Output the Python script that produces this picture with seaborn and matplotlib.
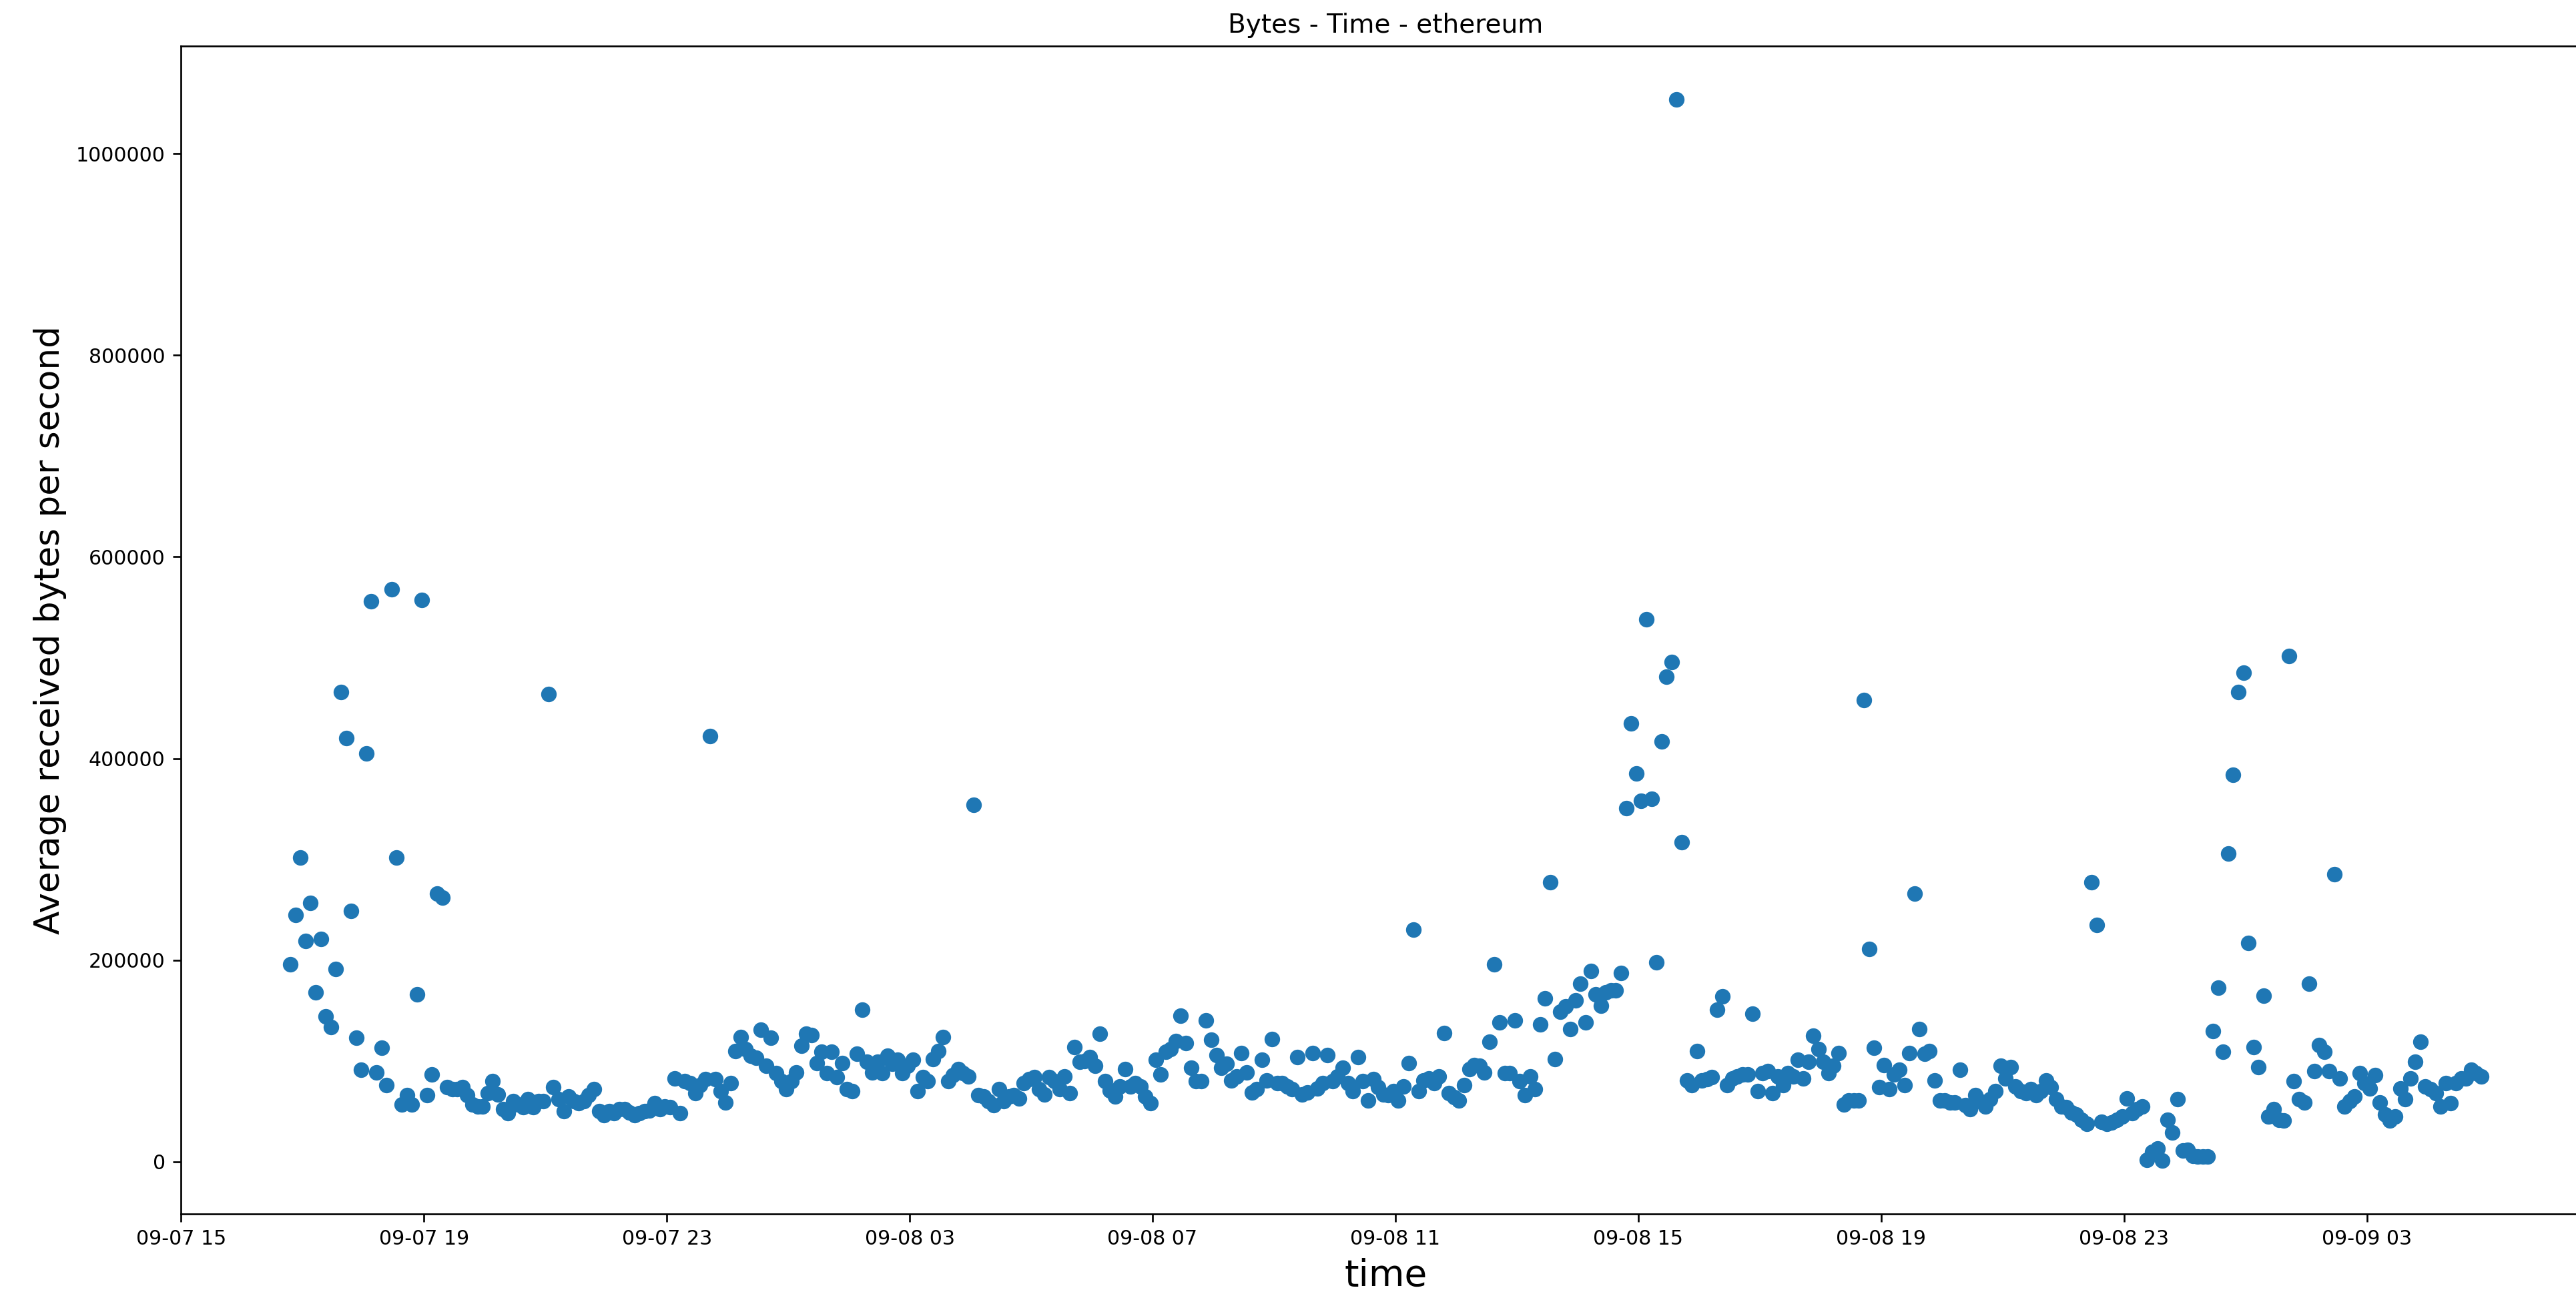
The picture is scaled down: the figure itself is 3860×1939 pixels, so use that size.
import matplotlib
matplotlib.use("Agg")
import matplotlib.pyplot as plt
import matplotlib.dates as mdates
import seaborn as sns
import pandas as pd

# ---------------- data ----------------
start_time = "2018-09-07 16:48"
sample_interval = "5min"

avg_bytes = [
    196000, 245000, 302000, 219000, 257000, 168000, 221000, 144000, 134000, 191000,
    466000, 420000, 249000, 123000, 91000, 405000, 556000, 89000, 113000, 76000,
    568000, 302000, 57000, 66000, 57000, 166000, 557000, 66000, 87000, 266000,
    262000, 74000, 72000, 72000, 74000, 66000, 57000, 55000, 55000, 68000,
    80000, 67000, 52000, 48000, 60000, 57000, 54000, 62000, 54000, 60000,
    60000, 464000, 74000, 62000, 50000, 65000, 60000, 58000, 60000, 66000,
    72000, 50000, 46000, 50000, 48000, 52000, 52000, 49000, 46000, 48000,
    50000, 51000, 58000, 52000, 55000, 54000, 83000, 48000, 80000, 78000,
    68000, 76000, 82000, 422000, 82000, 70000, 59000, 78000, 110000, 124000,
    112000, 105000, 103000, 131000, 95000, 123000, 88000, 80000, 72000, 80000,
    89000, 115000, 127000, 126000, 98000, 109000, 88000, 109000, 84000, 98000,
    72000, 70000, 107000, 151000, 99000, 89000, 99000, 88000, 105000, 97000,
    101000, 88000, 95000, 101000, 70000, 84000, 80000, 102000, 110000, 124000,
    80000, 86000, 92000, 88000, 85000, 354000, 66000, 65000, 60000, 56000,
    72000, 60000, 65000, 66000, 63000, 78000, 82000, 84000, 72000, 67000,
    84000, 80000, 72000, 85000, 68000, 114000, 99000, 100000, 104000, 95000,
    127000, 80000, 71000, 65000, 75000, 92000, 75000, 78000, 75000, 65000,
    58000, 101000, 87000, 109000, 112000, 120000, 145000, 118000, 93000, 80000,
    80000, 140000, 121000, 106000, 93000, 97000, 81000, 85000, 108000, 89000,
    69000, 72000, 101000, 81000, 122000, 78000, 78000, 75000, 72000, 104000,
    67000, 69000, 108000, 73000, 78000, 106000, 80000, 85000, 93000, 78000,
    70000, 104000, 80000, 61000, 82000, 74000, 67000, 66000, 70000, 61000,
    75000, 98000, 230000, 70000, 81000, 83000, 78000, 85000, 128000, 68000,
    64000, 61000, 76000, 92000, 96000, 95000, 89000, 119000, 196000, 138000,
    88000, 88000, 140000, 80000, 66000, 85000, 72000, 136000, 162000, 277000,
    102000, 149000, 154000, 132000, 160000, 177000, 138000, 189000, 166000, 155000,
    168000, 170000, 170000, 187000, 351000, 435000, 385000, 358000, 538000, 360000,
    198000, 417000, 481000, 496000, 1054000, 317000, 81000, 76000, 110000, 81000,
    82000, 84000, 151000, 164000, 76000, 83000, 85000, 87000, 87000, 147000,
    70000, 88000, 90000, 68000, 85000, 76000, 88000, 85000, 101000, 83000,
    99000, 125000, 112000, 99000, 88000, 95000, 108000, 57000, 61000, 61000,
    61000, 458000, 211000, 113000, 74000, 96000, 72000, 87000, 91000, 76000,
    108000, 266000, 132000, 107000, 110000, 81000, 61000, 61000, 59000, 59000,
    91000, 56000, 52000, 66000, 60000, 55000, 62000, 70000, 95000, 83000,
    94000, 75000, 70000, 68000, 72000, 66000, 70000, 81000, 74000, 62000,
    55000, 54000, 49000, 47000, 42000, 38000, 277000, 235000, 40000, 38000,
    39000, 42000, 45000, 63000, 48000, 52000, 55000, 2000, 10000, 13000, 1000,
    42000, 29000, 62000, 11000, 12000, 6000, 5000, 5000, 5000, 130000,
    173000, 109000, 306000, 384000, 466000, 485000, 217000, 114000, 94000, 165000,
    45000, 52000, 42000, 41000, 502000, 80000, 62000, 59000, 177000, 90000,
    116000, 109000, 90000, 285000, 83000, 55000, 60000, 65000, 88000, 78000,
    73000, 86000, 59000, 47000, 41000, 45000, 73000, 62000, 83000, 99000,
    119000, 75000, 72000, 68000, 55000, 78000, 58000, 78000, 83000, 83000,
    91000, 88000, 85000,
]

title = "Bytes - Time - ethereum"
x_label = "time"
y_label = "Average received bytes per second"
tick_hours = [3, 7, 11, 15, 19, 23]

# ---------------- figure ----------------
times = pd.date_range(start_time, periods=len(avg_bytes), freq=sample_interval)
df = pd.DataFrame({"time": times, "bytes": avg_bytes})

W, H, DPI = 3861, 1939, 240
fig = plt.figure(figsize=(W / DPI, H / DPI), dpi=DPI, facecolor="white")
# axes extends slightly past the right edge of the figure, as in the reference
ax = fig.add_axes([271 / W, 120 / H, 3611 / W, 1750 / H])

sns.scatterplot(data=df, x="time", y="bytes", ax=ax, s=36,
                color="#1f77b4", edgecolor="#1f77b4", linewidth=1.0)

ax.xaxis.set_major_locator(mdates.HourLocator(byhour=tick_hours))
ax.xaxis.set_major_formatter(mdates.DateFormatter("%m-%d %H"))
ax.ticklabel_format(style="plain", axis="y")

ax.set_title(title, fontsize=11.7)
ax.set_xlabel(x_label, fontsize=16.5)
ax.set_ylabel(y_label, fontsize=15.5)
ax.tick_params(axis="both", labelsize=9, length=3.5, width=0.8)
for sp in ax.spines.values():
    sp.set_linewidth(0.8)
    sp.set_color("black")

fig.savefig("out.png", dpi=DPI, facecolor="white")
